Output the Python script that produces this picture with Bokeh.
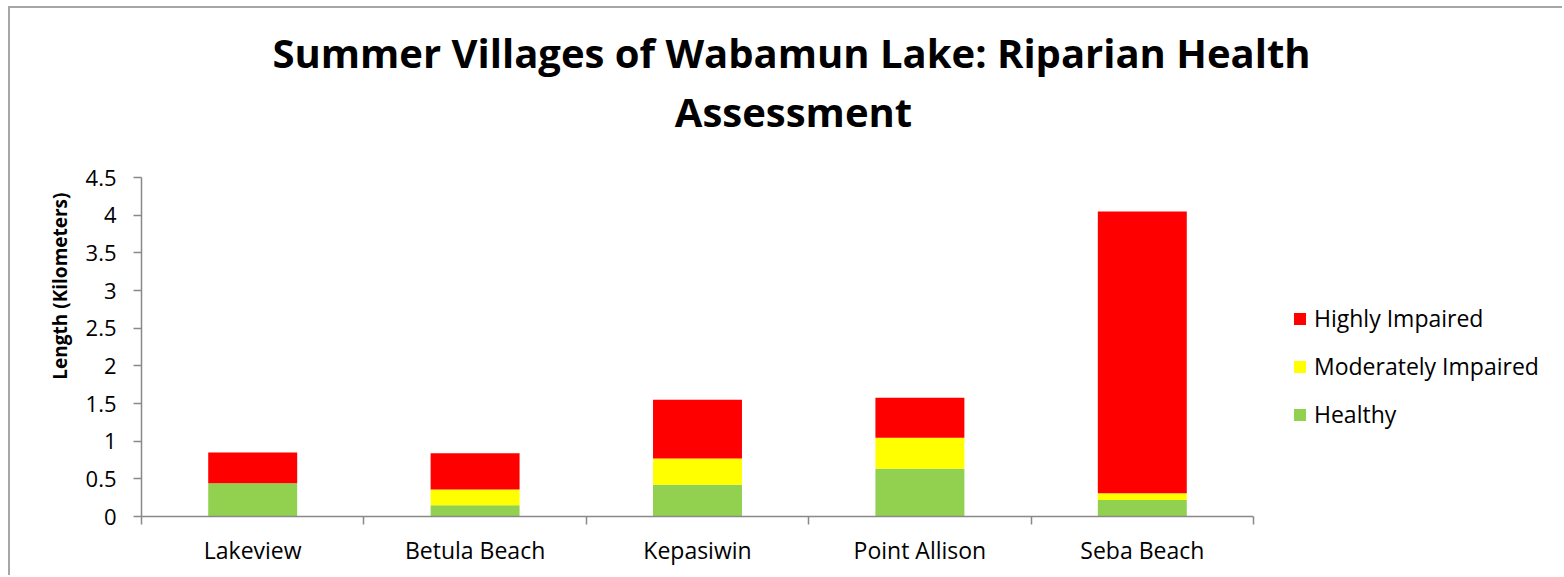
import math
from bokeh.plotting import figure
from bokeh.models import (ColumnDataSource, Range1d, FixedTicker, Legend, LegendItem, Title, Label)
from bokeh.embed import file_html
from bokeh.resources import INLINE

# ---- data ----
villages = ["Lakeview", "Betula Beach", "Kepasiwin", "Point Allison", "Seba Beach"]
healthy = [0.44, 0.15, 0.42, 0.635, 0.22]
moderate = [0.0, 0.21, 0.35, 0.41, 0.09]
high = [0.41, 0.48, 0.78, 0.53, 3.74]
series = ["Healthy", "Moderately Impaired", "Highly Impaired"]
colors = ["#92D050", "#FFFF00", "#FF0000"]
y_ticks = [0, 0.5, 1, 1.5, 2, 2.5, 3, 3.5, 4, 4.5]
y_tick_labels = ["0", "0.5", "1", "1.5", "2", "2.5", "3", "3.5", "4", "4.5"]
y_max = 4.5
title_lines = ["Summer Villages of Wabamun Lake: Riparian Health", "Assessment"]
y_title = "Length (Kilometers)"

FONT = "Open Sans"
AXIS_COLOR = "#898989"

# ---- layout geometry (pixels) ----
W, H = 1554, 569
LEFT, BOTTOM = 131, 61
AXIS_W, AXIS_H = 1112, 339          # pixel extent of the drawn axes
frame_w, frame_h = W - LEFT, H - BOTTOM
n = len(villages)
x_end = n * frame_w / AXIS_W
y_end = y_max * frame_h / AXIS_H

xpos = [i + 0.5 for i in range(n)]
src = ColumnDataSource(dict(x=xpos, Healthy=healthy, Moderate=moderate, High=high))

p = figure(width=W, height=H, output_backend="svg", toolbar_location=None,
           x_range=Range1d(0, x_end), y_range=Range1d(0, y_end),
           min_border_left=LEFT, min_border_right=0, min_border_top=0, min_border_bottom=BOTTOM)
p.styles = {"border-left": "2px solid #a6a6a6", "border-top": "2px solid #a6a6a6",
            "margin-left": "8px", "margin-top": "6px"}
p.outline_line_color = None
p.xgrid.grid_line_color = None
p.ygrid.grid_line_color = None
p.background_fill_color = "white"
p.border_fill_color = "white"

renderers = p.vbar_stack(["Healthy", "Moderate", "High"], x="x", width=0.4, source=src,
                         color=colors, line_color=None)

# x axis: labels at centres, tick marks at category boundaries
xa = p.xaxis[0]
xa.bounds = (0, n)
xa.ticker = FixedTicker(ticks=xpos, minor_ticks=list(range(n + 1)))
xa.major_label_overrides = {x: v for x, v in zip(xpos, villages)}
xa.major_tick_line_color = None
xa.major_tick_out = 8
xa.major_tick_in = 0
xa.minor_tick_out = 8
xa.minor_tick_in = 0
xa.minor_tick_line_color = AXIS_COLOR
xa.minor_tick_line_width = 1.5
xa.axis_line_color = AXIS_COLOR
xa.axis_line_width = 1.5
xa.major_label_text_font = FONT
xa.major_label_text_font_size = "23px"
xa.major_label_text_color = "black"
xa.major_label_standoff = 9

ya = p.yaxis[0]
ya.bounds = (0, y_max)
ya.ticker = FixedTicker(ticks=y_ticks, minor_ticks=[])
ya.major_label_overrides = {t: s for t, s in zip(y_ticks, y_tick_labels)}
ya.major_tick_out = 8
ya.major_tick_in = 0
ya.major_tick_line_color = AXIS_COLOR
ya.major_tick_line_width = 1.5
ya.minor_tick_line_color = None
ya.axis_line_color = AXIS_COLOR
ya.axis_line_width = 1.5
ya.major_label_text_font = FONT
ya.major_label_text_font_size = "22px"
ya.major_label_text_color = "black"
ya.major_label_standoff = 17

# y axis title
p.add_layout(Title(text=y_title, align="right", offset=184, standoff=20,
                   text_font=FONT, text_font_style="bold", text_font_size="19px",
                   text_color="black"), "left")

# chart title (two lines), positioned in screen units relative to the frame
for txt, cx, yb in zip(title_lines, [650, 652], [464, 405]):
    p.add_layout(Label(x=cx, y=yb, x_units="screen", y_units="screen", text=txt,
                       text_align="center", text_baseline="alphabetic",
                       text_font=FONT, text_font_style="bold", text_font_size="40px",
                       text_color="black"))

# legend (reverse order)
items = [LegendItem(label=series[i], renderers=[renderers[i]]) for i in (2, 1, 0)]
legend = Legend(items=items, location=(1151, 86), orientation="vertical",
                glyph_width=15, glyph_height=15, label_standoff=7, label_height=20,
                spacing=16, padding=0, margin=0, border_line_color=None,
                background_fill_alpha=0,
                label_text_font=FONT, label_text_font_size="23px", label_text_color="black")
p.add_layout(legend, "center")

open("out.html", "w").write(file_html(p, INLINE))
